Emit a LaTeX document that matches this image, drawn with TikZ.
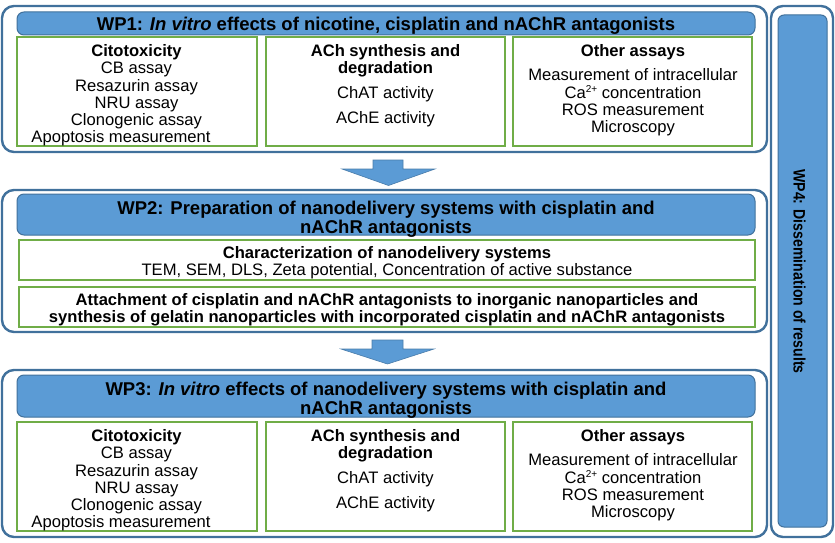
\documentclass[tikz,border=0pt]{standalone}
\usepackage{fontspec}
\setmainfont{Liberation Sans}
\definecolor{wpblue}{HTML}{5B9BD5}
\definecolor{wpedge}{HTML}{41719C}
\definecolor{wpgreen}{HTML}{70AD47}
\newcommand{\bodyfont}{\fontsize{16.6}{17.2}\selectfont}
\newcommand{\headfont}{\fontsize{18.5}{19.2}\selectfont\bfseries}
\newcommand{\supsc}[1]{\raisebox{0.36em}{\fontsize{10}{10}\selectfont #1}}
\newcommand{\assaycols}[1]{%
  \node[greenbox,minimum width=240,minimum height=109] (#1g1) at (137,91.5) {};
  \node[greenbox,minimum width=239,minimum height=109] (#1g2) at (385.5,91.5) {};
  \node[greenbox,minimum width=239,minimum height=109] (#1g3) at (632.5,91.5) {};
  \node[txt] (#1c1) at (136.5,95.5) {\textbf{Citotoxicity}\\CB assay\\Resazurin assay\\NRU assay\\Clonogenic assay\\Apoptosis measurement\hspace*{31pt}};
  \node[txt,font=\bodyfont\bfseries] (#1c2t) at (385.5,61) {ACh synthesis and\\degradation};
  \node[txt] (#1c2a) at (385.5,94.5) {ChAT activity};
  \node[txt] (#1c2b) at (385.5,119.5) {AChE activity};
  \node[txt,font=\bodyfont\bfseries] (#1c3t) at (633,52.5) {Other assays};
  \node[txt] (#1c3b) at (633,102.5) {Measurement of intracellular\\Ca\supsc{2+} concentration\\ROS measurement\\Microscopy};
}
\begin{document}
\begin{tikzpicture}[x=1pt,y=-1pt,
  outerbox/.style={draw=wpedge,line width=2.4pt,rounded corners=12pt,fill=white,inner sep=0pt},
  headbox/.style={draw=wpedge,line width=1pt,fill=wpblue,rounded corners=7pt,inner sep=0pt},
  headtxt/.style={align=center,inner sep=0pt,font=\headfont},
  greenbox/.style={draw=wpgreen,line width=1.5pt,fill=white,inner sep=0pt},
  txt/.style={align=center,inner sep=0pt,font=\bodyfont},
  blockarrow/.style={fill=wpblue,draw=wpblue!80!black,line width=0.6pt,line join=miter}]
\useasboundingbox (0,0) rectangle (835,543);

% WP1
\node[outerbox,minimum width=765,minimum height=146] (wp1) at (384.5,79) {};
\node[headbox,minimum width=738,minimum height=23] (h1) at (386,23.5) {};
\node[headtxt] (h1t) at (386,25.5) {WP1: \textit{In vitro} effects of nicotine, cisplatin and nAChR antagonists};
\assaycols{a}

% arrow 1
\draw[blockarrow] (373,160) -- (403,160) -- (403,169) -- (435,169) -- (388.5,185.5) -- (342,169) -- (373,169) -- cycle;

% WP2
\node[outerbox,minimum width=765,minimum height=142] (wp2) at (384.5,261) {};
\node[headbox,minimum width=738,minimum height=41] (h2) at (386,214.5) {};
\node[headtxt] (h2t) at (386,219) {WP2: Preparation of nanodelivery systems with cisplatin and\\nAChR antagonists};
\node[greenbox,minimum width=736,minimum height=40] (g21) at (387,260) {};
\node[txt] (g21t) at (387,263) {\textbf{Characterization of nanodelivery systems}\\TEM, SEM, DLS, Zeta potential, Concentration of active substance};
\node[greenbox,minimum width=736,minimum height=40] (g22) at (387,307) {};
\node[txt,font=\bodyfont\bfseries] (g22t) at (387,310) {Attachment of cisplatin and nAChR antagonists to inorganic nanoparticles and\\synthesis of gelatin nanoparticles with incorporated cisplatin and nAChR antagonists};

% arrow 2
\draw[blockarrow] (372,340) -- (403,340) -- (403,349) -- (434,349) -- (387.5,364) -- (341,349) -- (372,349) -- cycle;

% WP3
\node[outerbox,minimum width=765,minimum height=167] (wp3) at (384.5,453.5) {};
\node[headbox,minimum width=738,minimum height=42] (h3) at (386,396) {};
\node[headtxt] (h3t) at (386,400.5) {WP3: \textit{In vitro} effects of nanodelivery systems with cisplatin and\\nAChR antagonists};
\begin{scope}[shift={(0,385)}]
\assaycols{b}
\end{scope}

% WP4
\node[outerbox,minimum width=62,minimum height=531] (wp4) at (802,271.5) {};
\node[headbox,minimum width=49,minimum height=512,rounded corners=6pt] (h4) at (802.5,271) {};
\node[rotate=-90,inner sep=0pt,font=\fontsize{16.6}{17}\selectfont\bfseries] (t4) at (799.5,271.5) {\scalebox{0.85}[1]{WP4: Dissemination of results}};
\end{tikzpicture}
\end{document}
